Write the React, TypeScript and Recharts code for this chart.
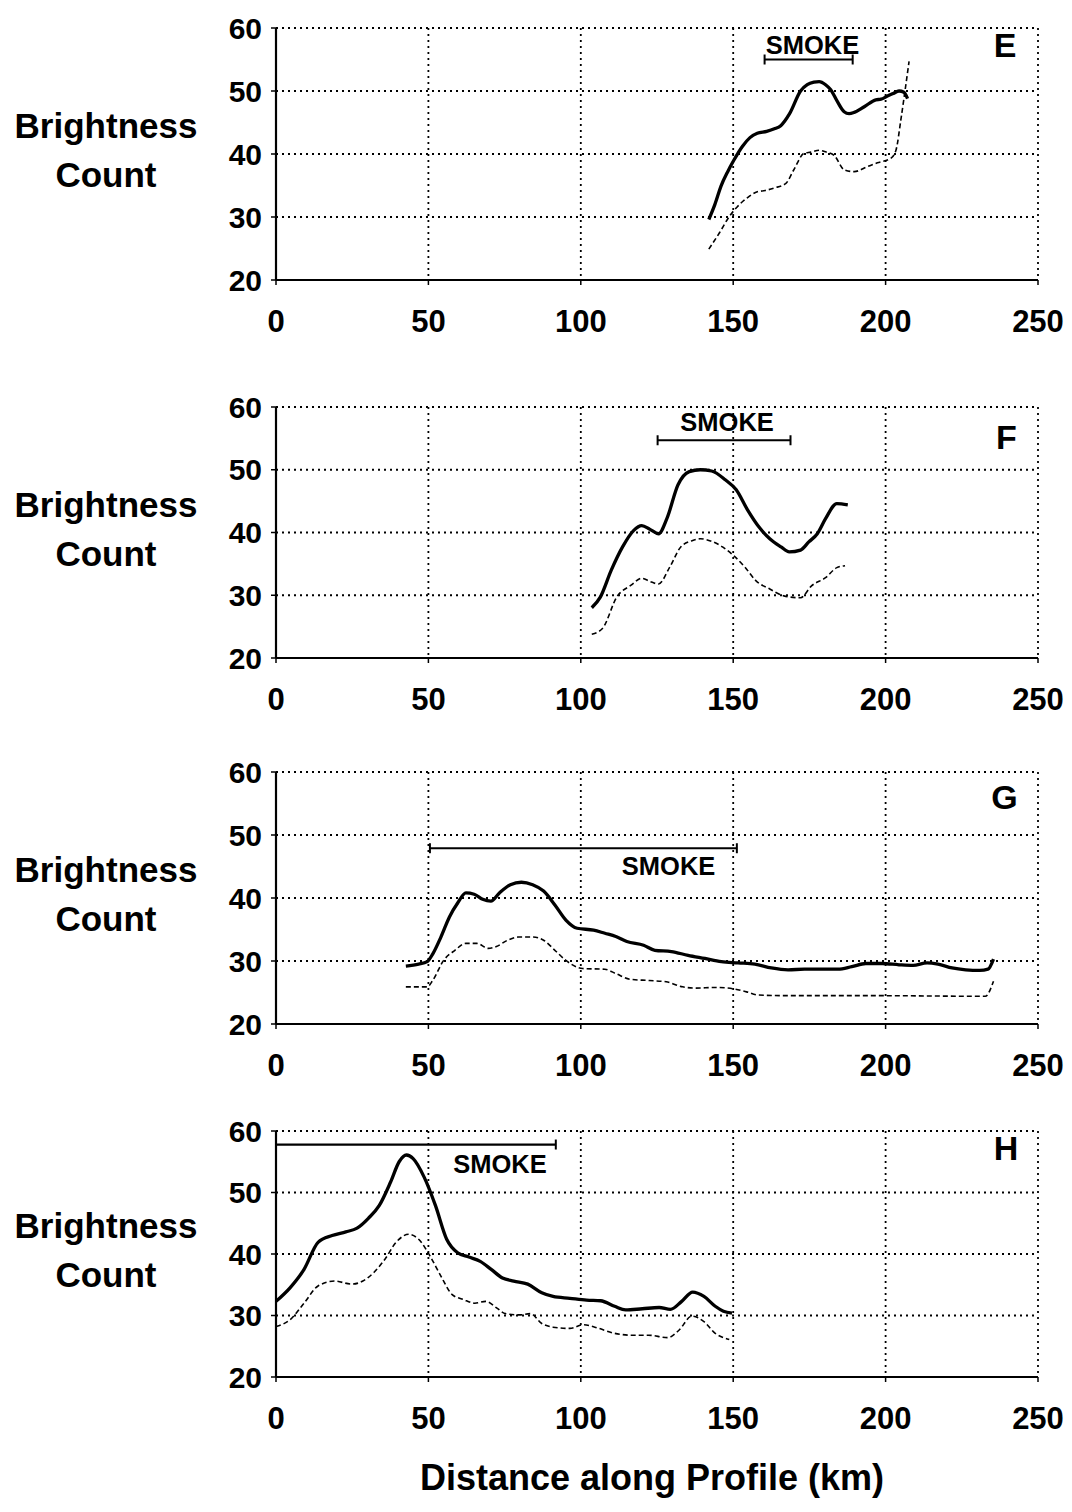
import React from 'react';
import { ComposedChart, Line, XAxis, YAxis, CartesianGrid, Scatter } from 'recharts';

const FONT = '"Liberation Sans", Arial, Helvetica, sans-serif';

const X_TICKS = [0, 50, 100, 150, 200, 250];
const Y_TICKS = [20, 30, 40, 50, 60];
const SMOKE_LABEL = 'SMOKE';
const Y_LABEL = ['Brightness', 'Count'];
const X_TITLE = 'Distance along Profile (km)';

// Panel E
const E_BRIGHT = [
  { km: 142.0, v: 29.6 }, { km: 144.0, v: 32.0 }, { km: 146.0, v: 34.9 }, { km: 148.2, v: 37.2 },
  { km: 150.2, v: 39.0 }, { km: 153.0, v: 41.2 }, { km: 155.5, v: 42.6 }, { km: 157.9, v: 43.3 },
  { km: 161.0, v: 43.6 }, { km: 163.5, v: 44.0 }, { km: 165.6, v: 44.5 }, { km: 168.5, v: 46.4 },
  { km: 172.1, v: 50.0 }, { km: 174.3, v: 51.0 }, { km: 176.5, v: 51.4 }, { km: 178.2, v: 51.5 },
  { km: 180.3, v: 51.0 }, { km: 182.0, v: 50.2 }, { km: 184.2, v: 48.3 }, { km: 186.4, v: 46.7 },
  { km: 188.0, v: 46.4 }, { km: 189.7, v: 46.6 }, { km: 193.0, v: 47.5 }, { km: 196.8, v: 48.6 },
  { km: 198.5, v: 48.7 }, { km: 200.6, v: 49.2 }, { km: 202.5, v: 49.6 }, { km: 204.4, v: 50.0 },
  { km: 206.0, v: 49.8 }, { km: 207.2, v: 48.8 },
];
const E_DIM = [
  { km: 142.0, v: 24.9 }, { km: 145.5, v: 27.5 }, { km: 148.6, v: 30.0 }, { km: 151.3, v: 31.6 },
  { km: 154.5, v: 33.0 }, { km: 157.9, v: 34.0 }, { km: 160.5, v: 34.2 }, { km: 163.4, v: 34.6 },
  { km: 167.2, v: 35.3 }, { km: 169.9, v: 37.5 }, { km: 173.2, v: 40.1 }, { km: 175.5, v: 40.3 },
  { km: 178.2, v: 40.6 }, { km: 180.5, v: 40.3 }, { km: 183.1, v: 39.8 }, { km: 186.4, v: 37.5 },
  { km: 189.7, v: 37.2 }, { km: 194.0, v: 38.0 }, { km: 197.3, v: 38.6 }, { km: 201.7, v: 39.3 },
  { km: 203.4, v: 40.6 }, { km: 205.0, v: 45.4 }, { km: 206.1, v: 49.1 }, { km: 207.7, v: 54.7 },
];
const E_SMOKE = [{ km: 160.3, v: 55.0 }, { km: 189.2, v: 55.0 }];
const E_SMOKE_TEXT = [{ km: 176.0, v: 55.9 }];
const E_LETTER = [{ km: 239.2, v: 55.4, t: 'E' }];

// Panel F
const F_BRIGHT = [
  { km: 103.6, v: 28.0 }, { km: 106.4, v: 29.7 }, { km: 110.0, v: 34.0 }, { km: 113.7, v: 37.7 },
  { km: 117.3, v: 40.3 }, { km: 120.0, v: 41.1 }, { km: 122.7, v: 40.5 }, { km: 125.5, v: 39.8 },
  { km: 128.3, v: 42.3 }, { km: 131.9, v: 47.6 }, { km: 135.6, v: 49.7 }, { km: 139.2, v: 50.0 },
  { km: 142.9, v: 49.8 }, { km: 147.4, v: 48.4 }, { km: 151.0, v: 46.8 }, { km: 154.7, v: 43.6 },
  { km: 158.4, v: 40.9 }, { km: 162.0, v: 39.0 }, { km: 165.7, v: 37.7 }, { km: 168.4, v: 36.9 },
  { km: 172.1, v: 37.2 }, { km: 174.8, v: 38.5 }, { km: 177.6, v: 39.8 }, { km: 180.3, v: 42.2 },
  { km: 184.0, v: 44.6 }, { km: 187.6, v: 44.4 },
];
const F_DIM = [
  { km: 103.6, v: 23.8 }, { km: 107.1, v: 24.7 }, { km: 111.9, v: 29.8 }, { km: 116.5, v: 31.6 },
  { km: 120.0, v: 32.7 }, { km: 122.7, v: 32.2 }, { km: 125.5, v: 31.8 }, { km: 129.2, v: 34.5 },
  { km: 132.8, v: 37.7 }, { km: 136.5, v: 38.7 }, { km: 139.2, v: 39.0 }, { km: 142.9, v: 38.6 },
  { km: 146.5, v: 37.7 }, { km: 150.2, v: 36.3 }, { km: 153.8, v: 34.5 }, { km: 157.5, v: 32.3 },
  { km: 162.0, v: 31.0 }, { km: 166.6, v: 29.9 }, { km: 172.1, v: 29.6 }, { km: 175.7, v: 31.5 },
  { km: 180.3, v: 32.8 }, { km: 184.0, v: 34.4 }, { km: 186.7, v: 34.7 },
];
const F_SMOKE = [{ km: 125.2, v: 54.7 }, { km: 168.8, v: 54.7 }];
const F_SMOKE_TEXT = [{ km: 148.0, v: 56.2 }];
const F_LETTER = [{ km: 239.6, v: 53.3, t: 'F' }];

// Panel G
const G_BRIGHT = [
  { km: 42.6, v: 29.2 }, { km: 46.8, v: 29.5 }, { km: 49.6, v: 29.9 }, { km: 51.4, v: 31.1 },
  { km: 54.1, v: 33.8 }, { km: 56.9, v: 37.0 }, { km: 59.6, v: 39.2 }, { km: 62.3, v: 40.8 },
  { km: 65.0, v: 40.6 }, { km: 67.8, v: 39.8 }, { km: 70.5, v: 39.5 }, { km: 73.3, v: 40.8 },
  { km: 76.9, v: 42.1 }, { km: 80.5, v: 42.5 }, { km: 84.2, v: 42.1 }, { km: 87.8, v: 41.1 },
  { km: 91.5, v: 38.9 }, { km: 95.1, v: 36.5 }, { km: 98.8, v: 35.2 }, { km: 104.2, v: 34.9 },
  { km: 107.9, v: 34.4 }, { km: 111.5, v: 33.9 }, { km: 115.1, v: 33.1 }, { km: 120.6, v: 32.5 },
  { km: 124.3, v: 31.7 }, { km: 129.7, v: 31.5 }, { km: 135.2, v: 30.9 }, { km: 140.7, v: 30.4 },
  { km: 146.1, v: 29.9 }, { km: 151.6, v: 29.7 }, { km: 157.1, v: 29.5 }, { km: 162.5, v: 28.9 },
  { km: 168.0, v: 28.6 }, { km: 173.4, v: 28.7 }, { km: 178.9, v: 28.7 }, { km: 184.4, v: 28.7 },
  { km: 188.9, v: 29.1 }, { km: 193.5, v: 29.6 }, { km: 198.9, v: 29.6 }, { km: 204.4, v: 29.4 },
  { km: 209.0, v: 29.3 }, { km: 213.6, v: 29.7 }, { km: 217.2, v: 29.5 }, { km: 221.8, v: 28.9 },
  { km: 226.3, v: 28.6 }, { km: 230.9, v: 28.5 }, { km: 233.6, v: 28.7 }, { km: 235.4, v: 30.3 },
];
const G_DIM = [
  { km: 42.6, v: 25.9 }, { km: 49.6, v: 25.9 }, { km: 51.4, v: 26.9 }, { km: 55.0, v: 30.1 },
  { km: 58.7, v: 31.7 }, { km: 62.3, v: 32.8 }, { km: 65.9, v: 32.8 }, { km: 69.6, v: 32.0 },
  { km: 72.3, v: 32.3 }, { km: 76.0, v: 33.3 }, { km: 79.6, v: 33.8 }, { km: 84.2, v: 33.8 },
  { km: 87.8, v: 33.3 }, { km: 91.5, v: 31.7 }, { km: 95.1, v: 30.1 }, { km: 100.6, v: 28.8 },
  { km: 107.9, v: 28.7 }, { km: 111.5, v: 28.0 }, { km: 116.1, v: 27.1 }, { km: 122.5, v: 26.9 },
  { km: 128.0, v: 26.7 }, { km: 133.4, v: 25.9 }, { km: 137.1, v: 25.7 }, { km: 144.4, v: 25.8 },
  { km: 149.9, v: 25.6 }, { km: 154.4, v: 25.1 }, { km: 158.0, v: 24.6 }, { km: 168.0, v: 24.5 },
  { km: 195.3, v: 24.5 }, { km: 232.7, v: 24.4 }, { km: 235.4, v: 26.8 },
];
const G_SMOKE = [{ km: 50.5, v: 47.9 }, { km: 151.2, v: 47.9 }];
const G_SMOKE_TEXT = [{ km: 128.8, v: 43.6 }];
const G_LETTER = [{ km: 239.0, v: 54.1, t: 'G' }];

// Panel H
const H_BRIGHT = [
  { km: 0.0, v: 32.3 }, { km: 4.6, v: 34.5 }, { km: 9.2, v: 37.5 }, { km: 13.8, v: 41.9 },
  { km: 18.4, v: 43.0 }, { km: 22.9, v: 43.6 }, { km: 26.6, v: 44.2 }, { km: 30.3, v: 45.8 },
  { km: 33.9, v: 47.9 }, { km: 37.6, v: 51.7 }, { km: 40.4, v: 55.0 }, { km: 42.8, v: 56.1 },
  { km: 45.0, v: 55.5 }, { km: 48.6, v: 52.5 }, { km: 52.3, v: 47.9 }, { km: 56.0, v: 42.4 },
  { km: 59.6, v: 40.2 }, { km: 63.3, v: 39.5 }, { km: 67.0, v: 38.8 }, { km: 70.6, v: 37.5 },
  { km: 74.3, v: 36.1 }, { km: 78.0, v: 35.6 }, { km: 82.6, v: 35.1 }, { km: 87.2, v: 33.7 },
  { km: 90.9, v: 33.1 }, { km: 96.4, v: 32.8 }, { km: 101.9, v: 32.5 }, { km: 106.5, v: 32.4 },
  { km: 111.1, v: 31.5 }, { km: 114.7, v: 30.9 }, { km: 120.2, v: 31.1 }, { km: 125.7, v: 31.3 },
  { km: 129.4, v: 31.0 }, { km: 133.1, v: 32.3 }, { km: 136.7, v: 33.8 }, { km: 140.4, v: 33.1 },
  { km: 144.1, v: 31.5 }, { km: 146.8, v: 30.7 }, { km: 149.6, v: 30.4 },
];
const H_DIM = [
  { km: 0.0, v: 28.2 }, { km: 4.6, v: 29.3 }, { km: 9.2, v: 32.0 }, { km: 13.8, v: 34.8 },
  { km: 19.3, v: 35.6 }, { km: 24.8, v: 35.1 }, { km: 28.5, v: 35.6 }, { km: 32.1, v: 37.0 },
  { km: 35.8, v: 39.2 }, { km: 39.4, v: 41.9 }, { km: 43.5, v: 43.2 }, { km: 46.8, v: 42.4 },
  { km: 50.5, v: 39.7 }, { km: 54.1, v: 36.4 }, { km: 57.8, v: 33.4 }, { km: 61.5, v: 32.6 },
  { km: 65.2, v: 32.0 }, { km: 68.8, v: 32.3 }, { km: 72.5, v: 31.2 }, { km: 75.3, v: 30.3 },
  { km: 79.8, v: 30.1 }, { km: 83.5, v: 30.3 }, { km: 87.2, v: 28.7 }, { km: 90.9, v: 28.1 },
  { km: 96.4, v: 27.9 }, { km: 101.0, v: 28.5 }, { km: 104.6, v: 28.1 }, { km: 111.1, v: 27.1 },
  { km: 116.6, v: 26.8 }, { km: 122.1, v: 26.8 }, { km: 128.5, v: 26.4 }, { km: 132.2, v: 27.6 },
  { km: 136.4, v: 29.9 }, { km: 140.4, v: 29.0 }, { km: 144.1, v: 27.1 }, { km: 148.7, v: 26.1 },
];
const H_SMOKE = [{ km: 0.0, v: 57.8 }, { km: 91.8, v: 57.8 }];
const H_SMOKE_TEXT = [{ km: 73.5, v: 53.2 }];
const H_LETTER = [{ km: 239.5, v: 55.3, t: 'H' }];

type Pt = { km: number; v: number; t?: string };

const PANELS: {
  top: number; bot: number; bright: Pt[]; dim: Pt[]; smoke: Pt[]; smokeText: Pt[]; letter: Pt[];
}[] = [
  { top: 28, bot: 280, bright: E_BRIGHT, dim: E_DIM, smoke: E_SMOKE, smokeText: E_SMOKE_TEXT, letter: E_LETTER },
  { top: 407, bot: 658, bright: F_BRIGHT, dim: F_DIM, smoke: F_SMOKE, smokeText: F_SMOKE_TEXT, letter: F_LETTER },
  { top: 772, bot: 1024, bright: G_BRIGHT, dim: G_DIM, smoke: G_SMOKE, smokeText: G_SMOKE_TEXT, letter: G_LETTER },
  { top: 1131, bot: 1377, bright: H_BRIGHT, dim: H_DIM, smoke: H_SMOKE, smokeText: H_SMOKE_TEXT, letter: H_LETTER },
];

const Cap = (props: any) => {
  const { cx, cy, index } = props;
  if (cx == null || cy == null) return null;
  return <line key={`cap-${index}`} x1={cx} x2={cx} y1={cy - 5} y2={cy + 5} stroke="#000" strokeWidth={2} />;
};

const SmokeText = (props: any) => {
  const { cx, cy } = props;
  if (cx == null || cy == null) return <g />;
  return (
    <text x={cx} y={cy} textAnchor="middle" fontSize={25.5} fontWeight={700} fontFamily={FONT} fill="#000">
      {SMOKE_LABEL}
    </text>
  );
};

const LetterText = (props: any) => {
  const { cx, cy, payload } = props;
  if (cx == null || cy == null) return <g />;
  return (
    <text x={cx} y={cy} textAnchor="middle" fontSize={34} fontWeight={700} fontFamily={FONT} fill="#000">
      {payload?.t}
    </text>
  );
};

const xTickStyle = { fontSize: 31, fontWeight: 700, fill: '#000', fontFamily: FONT };
const yTickStyle = { fontSize: 30, fontWeight: 700, fill: '#000', fontFamily: FONT };

function Panel(p: (typeof PANELS)[number]) {
  const plotH = p.bot - p.top;
  const height = plotH + 90;
  return (
    <div style={{ position: 'absolute', left: 0, top: p.top - 20, width: 1072, height }}>
      <ComposedChart width={1072} height={height} margin={{ top: 20, right: 34, bottom: 10, left: 206 }}>
        <CartesianGrid stroke="#000" strokeWidth={1.8} strokeDasharray="2 4" />
        <XAxis
          type="number"
          dataKey="km"
          domain={[0, 250]}
          ticks={X_TICKS}
          interval={0}
          height={60}
          tickSize={5}
          tickMargin={25}
          tick={xTickStyle}
          tickLine={{ stroke: '#000', strokeWidth: 1.5 }}
          axisLine={{ stroke: '#000', strokeWidth: 2.2 }}
          allowDataOverflow
        />
        <YAxis
          type="number"
          domain={[20, 60]}
          ticks={Y_TICKS}
          interval={0}
          width={70}
          tickSize={5}
          tickMargin={9}
          tick={yTickStyle}
          tickLine={{ stroke: '#000', strokeWidth: 1.5 }}
          axisLine={{ stroke: '#000', strokeWidth: 2.2 }}
          allowDataOverflow
        />
        <Line
          data={p.dim}
          dataKey="v"
          type="monotone"
          stroke="#000"
          strokeWidth={1.6}
          strokeDasharray="5 3"
          dot={false}
          activeDot={false}
          isAnimationActive={false}
        />
        <Line
          data={p.bright}
          dataKey="v"
          type="monotone"
          stroke="#000"
          strokeWidth={3.3}
          dot={false}
          activeDot={false}
          isAnimationActive={false}
        />
        <Line
          data={p.smoke}
          dataKey="v"
          type="linear"
          stroke="#000"
          strokeWidth={2.2}
          dot={Cap}
          activeDot={false}
          isAnimationActive={false}
        />
        <Scatter data={p.smokeText} dataKey="v" shape={SmokeText} isAnimationActive={false} />
        <Scatter data={p.letter} dataKey="v" shape={LetterText} isAnimationActive={false} />
      </ComposedChart>
    </div>
  );
}

export default function App() {
  return (
    <div style={{ position: 'absolute', left: 0, top: 0, width: 1072, height: 1512, background: '#fff' }}>
      {PANELS.map((p, i) => (
        <Panel key={i} {...p} />
      ))}
      <svg width={1072} height={1512} style={{ position: 'absolute', left: 0, top: 0, pointerEvents: 'none' }}>
        {PANELS.map((p, i) => {
          const c = (p.top + p.bot) / 2;
          return (
            <g key={i}>
              <text x={106} y={c - 16} textAnchor="middle" fontSize={35} fontWeight={700} fontFamily={FONT} fill="#000">
                {Y_LABEL[0]}
              </text>
              <text x={106} y={c + 33} textAnchor="middle" fontSize={35} fontWeight={700} fontFamily={FONT} fill="#000">
                {Y_LABEL[1]}
              </text>
            </g>
          );
        })}
        <text x={652} y={1490} textAnchor="middle" fontSize={36} fontWeight={700} fontFamily={FONT} fill="#000">
          {X_TITLE}
        </text>
      </svg>
    </div>
  );
}
